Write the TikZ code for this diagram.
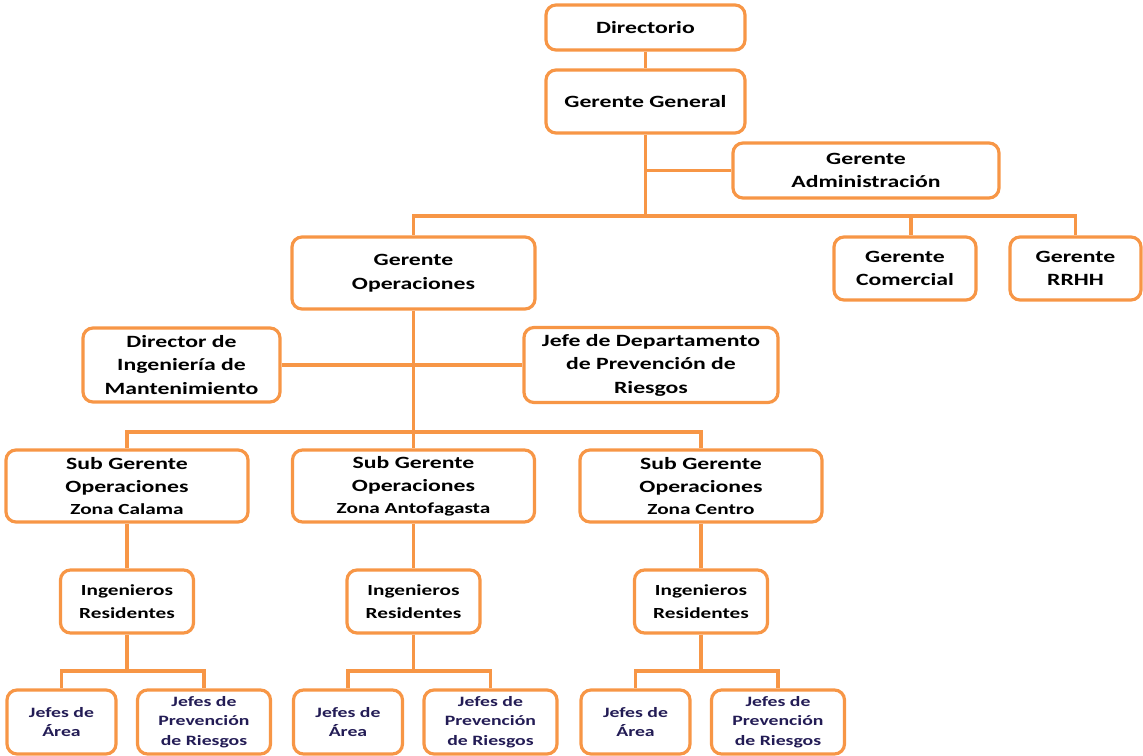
\documentclass[tikz,border=0pt]{standalone}
\usepackage{fontspec}
\newfontfamily\orgfont{Carlito}[FakeStretch=1.38]
\usepackage{tikz}
\usetikzlibrary{positioning}
\definecolor{orgorange}{HTML}{F79646}
\definecolor{orgnavy}{HTML}{231C55}

\tikzset{
  box/.style={draw=orgorange, line width=3.2pt, fill=white, rounded corners=10pt,
    align=center, inner sep=0pt, font=\orgfont\bfseries\fontsize{17.2}{23.5}\selectfont},
  smallbox/.style={box, text=orgnavy, font=\orgfont\bfseries\fontsize{14.3}{19.5}\selectfont},
  link/.style={draw=orgorange, line width=3.4pt}
}

\begin{document}
\begin{tikzpicture}[x=1pt,y=-1pt]
\useasboundingbox (0,0) rectangle (1143,755);
% top of the chart
\node [box, minimum width=199, minimum height=45] (dir) at (645.5,27.5) {Directorio};
\node [box, minimum width=199, minimum height=63] (gg) at (645.5,101.5) {Gerente General};
\node [box, minimum width=266, minimum height=55] (adm) at (866,170.5) {Gerente\\Administración};
\node [box, minimum width=243, minimum height=72] (gop) at (413.5,273) {Gerente\\Operaciones};
\node [box, minimum width=142, minimum height=63] (com) at (905,268.5) {Gerente\\Comercial};
\node [box, minimum width=131, minimum height=63] (rrhh) at (1075.5,268.5) {Gerente\\RRHH};
\coordinate (bar1) at (645.5,216);
\draw [link] (dir) -- (gg);
\draw [link] (gg) -- (bar1);
\draw [link] (gg.south |- adm.west) -- (adm.west);
\draw [link] (bar1) -| (gop.north);
\draw [link] (bar1) -| ([xshift=6]com.north);
\draw [link] (bar1) -| (rrhh.north);
% operaciones
\node [box, minimum width=197, minimum height=74] (dim) at (181.5,365) {Director de\\Ingeniería de\\Mantenimiento};
\node [box, minimum width=254, minimum height=75] (jdp) at (651,365) {Jefe de Departamento\\de Prevención de\\Riesgos};
\draw [link] (dim) -- (jdp);
\coordinate (bar2) at (413.5,432);
\draw [link] (gop) -- (bar2);
% zonas
\foreach \n/\x/\zona in {1/127/Calama, 2/413.5/Antofagasta, 3/701/Centro} {
  \node [box, minimum width=242, minimum height=72] (sg\n) at (\x,486)
    {Sub Gerente\\Operaciones\\[-2pt]{\fontsize{15.4}{18}\selectfont Zona \zona}};
  \draw [link] (bar2) -| (sg\n.north);
  \node [box, minimum width=133, minimum height=63] (ing\n) at (\x,601.5)
    {{\fontsize{15.4}{20.5}\selectfont Ingenieros}\\{\fontsize{15.4}{20.5}\selectfont Residentes}};
  \draw [link] (sg\n) -- (ing\n);
  \coordinate (bar\n3) at (\x,671);
  \node [smallbox, minimum width=109, minimum height=64] (ja\n) at (\x-65.5,722) {Jefes de\\Área};
  \node [smallbox, minimum width=133, minimum height=64] (jp\n) at (\x+77,722) {Jefes de\\Prevención\\de Riesgos};
  \draw [link] (ing\n) -- (bar\n3);
  \draw [link] (bar\n3) -| (ja\n.north);
  \draw [link] (bar\n3) -| (jp\n.north);
}
\end{tikzpicture}
\end{document}
